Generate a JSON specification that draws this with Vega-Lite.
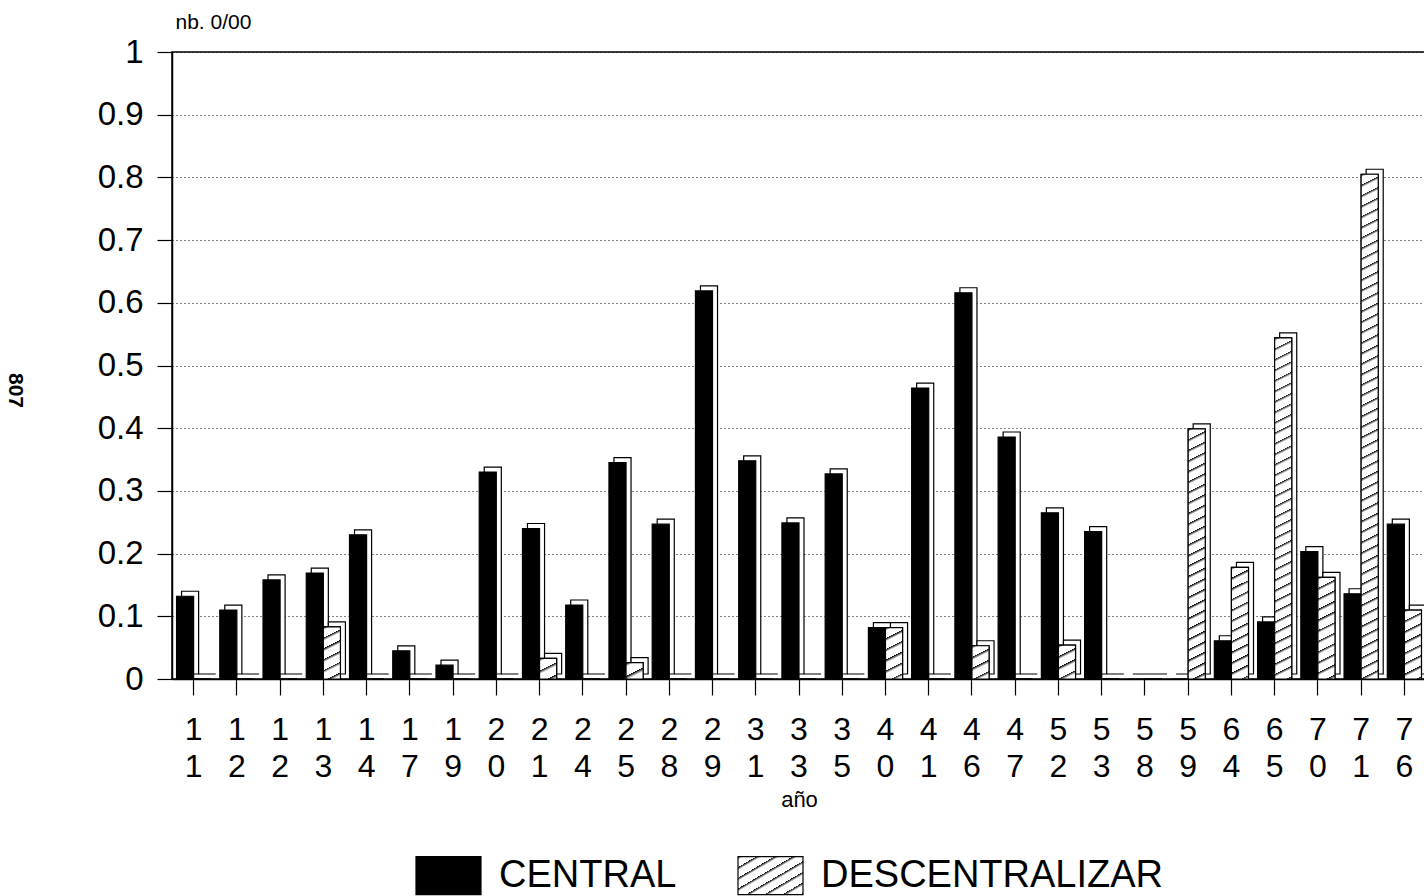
{
  "$schema": "https://vega.github.io/schema/vega-lite/v6.json",
  "autosize": "none",
  "padding": {"left": 172, "top": 52, "right": 0, "bottom": 217},
  "width": 1254,
  "height": 627,
  "background": "white",
  "config": {
    "font": "Liberation Sans",
    "view": {"stroke": "black", "strokeWidth": 1.5},
    "axis": {"labelColor": "black", "titleColor": "black", "domainColor": "black", "tickColor": "black", "labelFont": "Liberation Sans", "titleFont": "Liberation Sans"}
  },
  "title": {"text": "807", "orient": "left", "angle": 90, "anchor": "middle", "fontSize": 21, "fontWeight": "bold", "color": "black", "offset": 50, "dx": 25},
  "params": [
    {"name": "hs", "value": [
      {"offset":0,"color":"#000"},{"offset":0.006,"color":"#fff"},{"offset":0.02,"color":"#fff"},
      {"offset":0.02,"color":"#000"},{"offset":0.026,"color":"#fff"},{"offset":0.04,"color":"#fff"},
      {"offset":0.04,"color":"#000"},{"offset":0.046,"color":"#fff"},{"offset":0.06,"color":"#fff"},
      {"offset":0.06,"color":"#000"},{"offset":0.066,"color":"#fff"},{"offset":0.08,"color":"#fff"},
      {"offset":0.08,"color":"#000"},{"offset":0.086,"color":"#fff"},{"offset":0.1,"color":"#fff"},
      {"offset":0.1,"color":"#000"},{"offset":0.106,"color":"#fff"},{"offset":0.12,"color":"#fff"},
      {"offset":0.12,"color":"#000"},{"offset":0.126,"color":"#fff"},{"offset":0.14,"color":"#fff"},
      {"offset":0.14,"color":"#000"},{"offset":0.146,"color":"#fff"},{"offset":0.16,"color":"#fff"},
      {"offset":0.16,"color":"#000"},{"offset":0.166,"color":"#fff"},{"offset":0.18,"color":"#fff"},
      {"offset":0.18,"color":"#000"},{"offset":0.186,"color":"#fff"},{"offset":0.2,"color":"#fff"},
      {"offset":0.2,"color":"#000"},{"offset":0.206,"color":"#fff"},{"offset":0.22,"color":"#fff"},
      {"offset":0.22,"color":"#000"},{"offset":0.226,"color":"#fff"},{"offset":0.24,"color":"#fff"},
      {"offset":0.24,"color":"#000"},{"offset":0.246,"color":"#fff"},{"offset":0.26,"color":"#fff"},
      {"offset":0.26,"color":"#000"},{"offset":0.266,"color":"#fff"},{"offset":0.28,"color":"#fff"},
      {"offset":0.28,"color":"#000"},{"offset":0.286,"color":"#fff"},{"offset":0.3,"color":"#fff"},
      {"offset":0.3,"color":"#000"},{"offset":0.306,"color":"#fff"},{"offset":0.32,"color":"#fff"},
      {"offset":0.32,"color":"#000"},{"offset":0.326,"color":"#fff"},{"offset":0.34,"color":"#fff"},
      {"offset":0.34,"color":"#000"},{"offset":0.346,"color":"#fff"},{"offset":0.36,"color":"#fff"},
      {"offset":0.36,"color":"#000"},{"offset":0.366,"color":"#fff"},{"offset":0.38,"color":"#fff"},
      {"offset":0.38,"color":"#000"},{"offset":0.386,"color":"#fff"},{"offset":0.4,"color":"#fff"},
      {"offset":0.4,"color":"#000"},{"offset":0.406,"color":"#fff"},{"offset":0.42,"color":"#fff"},
      {"offset":0.42,"color":"#000"},{"offset":0.426,"color":"#fff"},{"offset":0.44,"color":"#fff"},
      {"offset":0.44,"color":"#000"},{"offset":0.446,"color":"#fff"},{"offset":0.46,"color":"#fff"},
      {"offset":0.46,"color":"#000"},{"offset":0.466,"color":"#fff"},{"offset":0.48,"color":"#fff"},
      {"offset":0.48,"color":"#000"},{"offset":0.486,"color":"#fff"},{"offset":0.5,"color":"#fff"},
      {"offset":0.5,"color":"#000"},{"offset":0.506,"color":"#fff"},{"offset":0.52,"color":"#fff"},
      {"offset":0.52,"color":"#000"},{"offset":0.526,"color":"#fff"},{"offset":0.54,"color":"#fff"},
      {"offset":0.54,"color":"#000"},{"offset":0.546,"color":"#fff"},{"offset":0.56,"color":"#fff"},
      {"offset":0.56,"color":"#000"},{"offset":0.566,"color":"#fff"},{"offset":0.58,"color":"#fff"},
      {"offset":0.58,"color":"#000"},{"offset":0.586,"color":"#fff"},{"offset":0.6,"color":"#fff"},
      {"offset":0.6,"color":"#000"},{"offset":0.606,"color":"#fff"},{"offset":0.62,"color":"#fff"},
      {"offset":0.62,"color":"#000"},{"offset":0.626,"color":"#fff"},{"offset":0.64,"color":"#fff"},
      {"offset":0.64,"color":"#000"},{"offset":0.646,"color":"#fff"},{"offset":0.66,"color":"#fff"},
      {"offset":0.66,"color":"#000"},{"offset":0.666,"color":"#fff"},{"offset":0.68,"color":"#fff"},
      {"offset":0.68,"color":"#000"},{"offset":0.686,"color":"#fff"},{"offset":0.7,"color":"#fff"},
      {"offset":0.7,"color":"#000"},{"offset":0.706,"color":"#fff"},{"offset":0.72,"color":"#fff"},
      {"offset":0.72,"color":"#000"},{"offset":0.726,"color":"#fff"},{"offset":0.74,"color":"#fff"},
      {"offset":0.74,"color":"#000"},{"offset":0.746,"color":"#fff"},{"offset":0.76,"color":"#fff"},
      {"offset":0.76,"color":"#000"},{"offset":0.766,"color":"#fff"},{"offset":0.78,"color":"#fff"},
      {"offset":0.78,"color":"#000"},{"offset":0.786,"color":"#fff"},{"offset":0.8,"color":"#fff"},
      {"offset":0.8,"color":"#000"},{"offset":0.806,"color":"#fff"},{"offset":0.82,"color":"#fff"},
      {"offset":0.82,"color":"#000"},{"offset":0.826,"color":"#fff"},{"offset":0.84,"color":"#fff"},
      {"offset":0.84,"color":"#000"},{"offset":0.846,"color":"#fff"},{"offset":0.86,"color":"#fff"},
      {"offset":0.86,"color":"#000"},{"offset":0.866,"color":"#fff"},{"offset":0.88,"color":"#fff"},
      {"offset":0.88,"color":"#000"},{"offset":0.886,"color":"#fff"},{"offset":0.9,"color":"#fff"},
      {"offset":0.9,"color":"#000"},{"offset":0.906,"color":"#fff"},{"offset":0.92,"color":"#fff"},
      {"offset":0.92,"color":"#000"},{"offset":0.926,"color":"#fff"},{"offset":0.94,"color":"#fff"},
      {"offset":0.94,"color":"#000"},{"offset":0.946,"color":"#fff"},{"offset":0.96,"color":"#fff"},
      {"offset":0.96,"color":"#000"},{"offset":0.966,"color":"#fff"},{"offset":0.98,"color":"#fff"},
      {"offset":0.98,"color":"#000"},{"offset":0.986,"color":"#fff"},{"offset":1,"color":"#fff"}
    ]}
  ],
  "data": {"values": [
    {"c": "11", "CENTRAL": 0.132, "DESCENTRALIZAR": 0},
    {"c": "12", "CENTRAL": 0.110, "DESCENTRALIZAR": 0},
    {"c": "12 ", "CENTRAL": 0.158, "DESCENTRALIZAR": 0},
    {"c": "13", "CENTRAL": 0.169, "DESCENTRALIZAR": 0.083},
    {"c": "14", "CENTRAL": 0.230, "DESCENTRALIZAR": 0},
    {"c": "17", "CENTRAL": 0.045, "DESCENTRALIZAR": 0},
    {"c": "19", "CENTRAL": 0.022, "DESCENTRALIZAR": 0},
    {"c": "20", "CENTRAL": 0.330, "DESCENTRALIZAR": 0},
    {"c": "21", "CENTRAL": 0.240, "DESCENTRALIZAR": 0.033},
    {"c": "24", "CENTRAL": 0.118, "DESCENTRALIZAR": 0},
    {"c": "25", "CENTRAL": 0.345, "DESCENTRALIZAR": 0.026},
    {"c": "28", "CENTRAL": 0.247, "DESCENTRALIZAR": 0},
    {"c": "29", "CENTRAL": 0.619, "DESCENTRALIZAR": 0},
    {"c": "31", "CENTRAL": 0.348, "DESCENTRALIZAR": 0},
    {"c": "33", "CENTRAL": 0.249, "DESCENTRALIZAR": 0},
    {"c": "35", "CENTRAL": 0.327, "DESCENTRALIZAR": 0},
    {"c": "40", "CENTRAL": 0.082, "DESCENTRALIZAR": 0.082},
    {"c": "41", "CENTRAL": 0.464, "DESCENTRALIZAR": 0},
    {"c": "46", "CENTRAL": 0.616, "DESCENTRALIZAR": 0.053},
    {"c": "47", "CENTRAL": 0.386, "DESCENTRALIZAR": 0},
    {"c": "52", "CENTRAL": 0.265, "DESCENTRALIZAR": 0.054},
    {"c": "53", "CENTRAL": 0.235, "DESCENTRALIZAR": 0},
    {"c": "58", "CENTRAL": 0, "DESCENTRALIZAR": 0},
    {"c": "59", "CENTRAL": 0, "DESCENTRALIZAR": 0.399},
    {"c": "64", "CENTRAL": 0.061, "DESCENTRALIZAR": 0.178},
    {"c": "65", "CENTRAL": 0.091, "DESCENTRALIZAR": 0.544},
    {"c": "70", "CENTRAL": 0.203, "DESCENTRALIZAR": 0.162},
    {"c": "71", "CENTRAL": 0.136, "DESCENTRALIZAR": 0.805},
    {"c": "76", "CENTRAL": 0.247, "DESCENTRALIZAR": 0.110}
  ]},
  "transform": [{"fold": ["CENTRAL", "DESCENTRALIZAR"], "as": ["s", "v"]}],
  "encoding": {
    "x": {
      "field": "c", "type": "nominal", "sort": null,
      "scale": {"paddingInner": 0.21, "paddingOuter": 0.105},
      "axis": {
        "title": "año", "titleFontSize": 22, "titleFontWeight": "normal", "titlePadding": 7,
        "labelAngle": 0, "labelExpr": "[substring(datum.label,0,1), substring(datum.label,1,2)]",
        "labelFontSize": 32, "labelLineHeight": 37, "labelPadding": 19,
        "tickSize": 16, "tickWidth": 1.2, "domainWidth": 1.5, "grid": false
      }
    },
    "y": {
      "field": "v", "type": "quantitative",
      "scale": {"domain": [0, 1], "nice": false},
      "axis": {
        "title": "nb. 0/00", "titleAngle": 0, "titleX": 3, "titleY": -24, "titleAlign": "left", "titleBaseline": "alphabetic",
        "titleFontSize": 21, "titleFontWeight": "normal",
        "values": [0, 0.1, 0.2, 0.3, 0.4, 0.5, 0.6, 0.7, 0.8, 0.9, 1],
        "format": ".1~f", "labelFontSize": 33, "labelPadding": 14, "tickSize": 15, "tickWidth": 1.2,
        "domainWidth": 1.5,
        "grid": true, "gridColor": "black", "gridDash": [1, 3], "gridWidth": 1
      }
    }
  },
  "layer": [
    {
      "transform": [{"filter": "datum.s === 'CENTRAL'"}],
      "mark": {"type": "bar", "fill": "white", "stroke": "black", "strokeWidth": 1.2, "width": 17.08, "xOffset": -3.54, "yOffset": -5, "y2Offset": -5}
    },
    {
      "transform": [{"filter": "datum.s === 'DESCENTRALIZAR'"}],
      "mark": {"type": "bar", "fill": "white", "stroke": "black", "strokeWidth": 1.2, "width": 17.08, "xOffset": 13.54, "yOffset": -5, "y2Offset": -5}
    },
    {
      "mark": {"type": "bar", "stroke": "black", "strokeWidth": 1.2},
      "encoding": {
        "xOffset": {"field": "s", "type": "nominal", "sort": ["CENTRAL", "DESCENTRALIZAR"], "scale": {"paddingInner": 0, "paddingOuter": 0}},
        "color": {
          "field": "s", "type": "nominal",
          "scale": {"domain": ["CENTRAL", "DESCENTRALIZAR"], "range": ["black", {"expr": "{gradient: 'linear', x1: 0, y1: 0, x2: 7, y2: 7, stops: hs}"}]},
          "legend": {
            "title": null, "orient": "none", "direction": "horizontal", "legendX": 243, "legendY": 790,
            "symbolType": "M-1,-0.585H1V0.585H-1Z", "symbolSize": 4225,
            "symbolStrokeColor": "black", "symbolStrokeWidth": 1.2,
            "labelFontSize": 38, "labelFont": "Liberation Sans", "labelColor": "black", "labelLimit": 600,
            "labelOffset": 17, "columnPadding": 58, "padding": 0
          }
        }
      }
    },
    {
      "transform": [{"filter": "datum.s === 'DESCENTRALIZAR'"}],
      "encoding": {
        "xOffset": {"field": "s", "type": "nominal", "sort": ["CENTRAL", "DESCENTRALIZAR"], "scale": {"paddingInner": 0, "paddingOuter": 0}}
      },
      "mark": {"type": "bar", "stroke": "black", "strokeWidth": 1.2,
        "fill": {"expr": "datum.v > 0 ? {gradient: 'linear', x1: 0, y1: 0, x2: 4462/(393129*datum.v*datum.v), y2: 525/(627*datum.v), stops: hs} : 'white'"}}
    }
  ]
}
